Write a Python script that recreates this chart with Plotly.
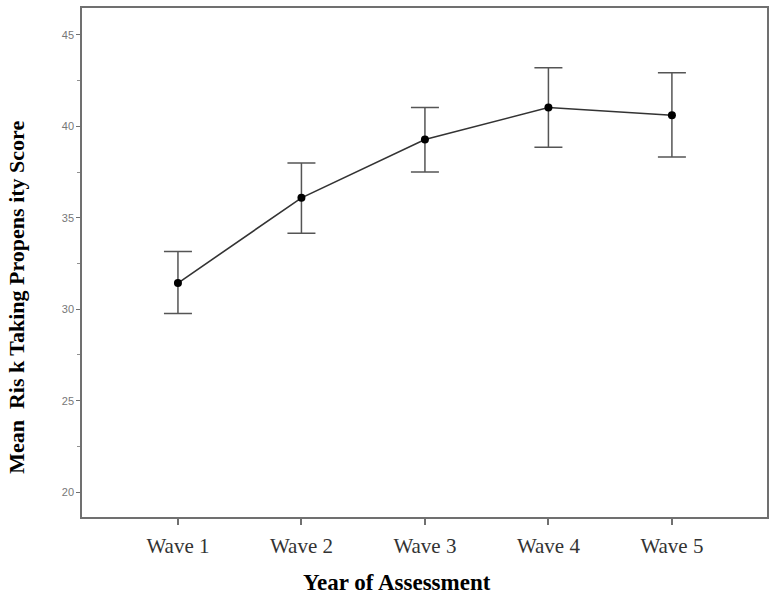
import plotly.graph_objects as go

waves = ["Wave 1", "Wave 2", "Wave 3", "Wave 4", "Wave 5"]
means = [31.43, 36.09, 39.28, 41.03, 40.61]
upper = [33.15, 38.0, 41.03, 43.2, 42.93]
lower = [29.77, 34.15, 37.5, 38.86, 38.32]
y_ticks = [20, 25, 30, 35, 40, 45]

err_plus = [u - m for u, m in zip(upper, means)]
err_minus = [m - l for m, l in zip(means, lower)]
xpos = list(range(len(waves)))

fig = go.Figure()
fig.add_trace(go.Scatter(
    x=xpos, y=means, mode="lines+markers",
    line=dict(color="#333333", width=1.6),
    marker=dict(color="black", size=8),
    error_y=dict(type="data", symmetric=False, array=err_plus, arrayminus=err_minus,
                 color="#555555", thickness=1.5, width=14),
    showlegend=False,
))

L, R, T, B = 82, 8, 6, 79
W, H = 775, 596

fig.update_layout(
    width=W, height=H,
    margin=dict(l=L, r=R, t=T, b=B),
    paper_bgcolor="white", plot_bgcolor="white",
    xaxis=dict(
        range=[-0.777, 4.77], tickmode="array", tickvals=xpos, ticktext=waves,
        showgrid=False, zeroline=False, showline=True, linecolor="#707070", linewidth=1.5,
        mirror=True, ticks="outside", ticklen=6, tickcolor="#707070", tickwidth=1.5,
        tickfont=dict(family="Liberation Serif", size=21, color="#333333"),
        ticklabelstandoff=3,
    ),
    yaxis=dict(
        range=[18.64, 46.47], tickmode="array", tickvals=y_ticks,
        showgrid=False, zeroline=False, showline=True, linecolor="#707070", linewidth=1.5,
        mirror=True, ticks="outside", ticklen=4, tickcolor="#707070", tickwidth=1.2,
        tickfont=dict(family="Liberation Sans Narrow, Liberation Sans", size=11, color="#777777"),
        minor=dict(dtick=2.5, tick0=0, ticks="outside", ticklen=3, tickcolor="#909090", tickwidth=1),
    ),
)

pw = W - L - R
ph = H - T - B


def px_to_paper(px, py):
    return (px - L) / pw, 1 - (py - T) / ph


ax, ay = px_to_paper(17, 297)
fig.add_annotation(text="<b>Mean  Ris k Taking Propens ity Score</b>", x=ax, y=ay,
                   xref="paper", yref="paper", xanchor="center", yanchor="middle",
                   showarrow=False, textangle=-90,
                   font=dict(family="Liberation Serif", size=22, color="black"))
bx, by = px_to_paper(397, 583)
fig.add_annotation(text="<b>Year of Assessment</b>", x=bx, y=by,
                   xref="paper", yref="paper", xanchor="center", yanchor="middle",
                   showarrow=False,
                   font=dict(family="Liberation Serif", size=23, color="black"))

fig.write_html("out.html", config={"displayModeBar": False},
               post_script="document.body.style.margin='0';document.body.style.padding='0';")
